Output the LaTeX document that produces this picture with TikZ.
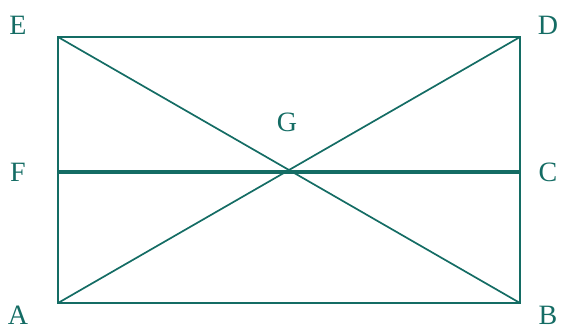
\documentclass[tikz,border=0pt]{standalone}
\usepackage{fontspec}
\setmainfont{Liberation Serif}
\definecolor{seg}{RGB}{20,108,100}
\tikzset{
  lbl/.style={text=seg, font=\fontsize{14}{14}\selectfont, inner sep=0pt},
  thin seg/.style={draw=seg, line width=0.85pt},
  thick seg/.style={draw=seg, line width=1.8pt}
}
\begin{document}
\begin{tikzpicture}[x=0.5pt, y=-0.5pt]
    \useasboundingbox (0,0) rectangle (563,329);
    % corners of the rectangle
    \coordinate (A) at (58,303);
    \coordinate (B) at (520,303);
    \coordinate (C) at (520,172);
    \coordinate (D) at (520,37);
    \coordinate (E) at (58,37);
    \coordinate (F) at (58,172);
    \coordinate (G) at (289,172);

    \node[lbl] (lA) at (18,315) {A};
    \node[lbl] (lB) at (548,315) {B};
    \node[lbl] (lC) at (548,172) {C};
    \node[lbl] (lD) at (548,25) {D};
    \node[lbl] (lE) at (18,25) {E};
    \node[lbl] (lF) at (18,172) {F};
    \node[lbl] (lG) at (287,122) {G};

    \draw[thin seg] (A) -- (B) -- (D) -- (E) -- cycle;
    \draw[thin seg] (A) -- (D);
    \draw[thin seg] (E) -- (B);
    \draw[thick seg] (F) -- (C);
  \end{tikzpicture}
\end{document}
